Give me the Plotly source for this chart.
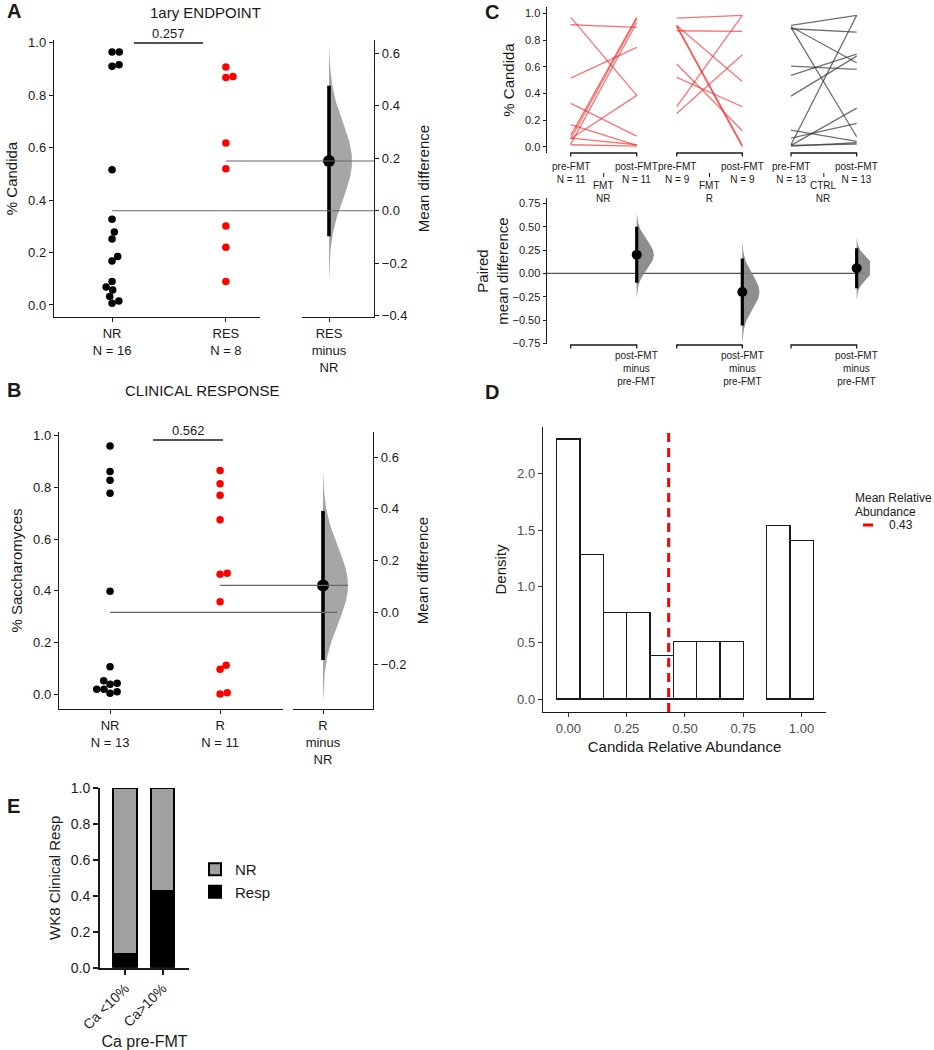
import numpy as np
import plotly.graph_objects as go

W, H = 934, 1050
FONT = "Liberation Sans, Arial, Helvetica, sans-serif"
INK = "#1a1a1a"

# ---------------- data ----------------
# Panel A: % Candida, primary endpoint
a_labels = ["NR", "RES"]
a_nr = [0.965, 0.965, 0.917, 0.911, 0.516, 0.327, 0.278, 0.252, 0.185, 0.168,
        0.089, 0.068, 0.057, 0.032, 0.015, 0.006]
a_res = [0.908, 0.872, 0.868, 0.618, 0.520, 0.301, 0.220, 0.089]
a_pvalue = "0.257"

# Panel B: % Saccharomyces, clinical response
b_labels = ["NR", "R"]
b_nr = [0.960, 0.861, 0.827, 0.777, 0.398, 0.106, 0.043, 0.039, 0.052,
        0.010, 0.004, 0.019, 0.019]
b_r = [0.865, 0.814, 0.769, 0.675, 0.468, 0.464, 0.358, 0.112, 0.097, 0.006, 0.001]
b_pvalue = "0.562"

# Panel C: paired % Candida pre / post FMT
c_group_labels = ["FMT<br>NR", "FMT<br>R", "CTRL<br>NR"]
c_fmt_nr_pre = [0.97, 0.915, 0.515, 0.325, 0.165, 0.06, 0.085, 0.06, 0.02, 0.065, 0.015]
c_fmt_nr_post = [0.385, 0.895, 0.745, 0.08, 0.01, 0.385, 0.97, 0.96, 0.93, 0.015, 0.005]
c_fmt_r_pre = [0.965, 0.87, 0.91, 0.91, 0.90, 0.62, 0.52, 0.30, 0.25]
c_fmt_r_post = [0.985, 0.865, 0.49, 0.01, 0.0, 0.12, 0.30, 0.985, 0.69]
c_ctrl_nr_pre = [0.91, 0.885, 0.90, 0.895, 0.605, 0.535, 0.38, 0.125, 0.065, 0.015, 0.01, 0.01, 0.005]
c_ctrl_nr_post = [0.985, 0.86, 0.63, 0.075, 0.58, 0.695, 0.68, 0.04, 0.175, 0.985, 0.29, 0.02, 0.03]

# Panel D: histogram of Candida relative abundance
d_counts = [18, 10, 6, 6, 3, 4, 4, 4, 0, 12, 11]
d_first_bin_center = 0.0
d_bin_width = 0.1
d_mean_abundance = 0.43
d_xticks = [0.0, 0.25, 0.5, 0.75, 1.0]

# Panel E: WK8 clinical response by pre-FMT Candida
e_categories = ["Ca <10%", "Ca>10%"]
e_resp = [0.077, 0.429]
e_nr = [0.923, 0.571]


# ---------------- helpers ----------------
def X(p):
    return p / W


def Y(p):
    return 1 - p / H


def key(i):
    return ("xaxis" if i[0] == "x" else "yaxis") + i[1:]


def to_paper_x(v, dom, rng):
    return dom[0] + (v - rng[0]) / (rng[1] - rng[0]) * (dom[1] - dom[0])


def swarm_offsets(vals, y_ppu, x_ppu, diam):
    vals = np.asarray(vals, float)
    order = np.argsort(vals, kind="stable")
    placed = []
    offs = np.zeros(len(vals))
    for i in order:
        yp = vals[i] * y_ppu
        cands = [0.0]
        for xp, yq in placed:
            dy = yp - yq
            if abs(dy) < diam:
                dx = np.sqrt(diam ** 2 - dy ** 2)
                cands += [xp + dx, xp - dx]
        cands = sorted(cands, key=lambda c: (abs(c), -c))
        for c in cands:
            if all((c - xp) ** 2 + (yp - yq) ** 2 >= diam ** 2 - 1e-6 for xp, yq in placed):
                offs[i] = c
                placed.append((c, yp))
                break
    return offs / x_ppu


base_axis = dict(showline=True, linecolor=INK, linewidth=1.4, ticks="outside", ticklen=4,
                 tickwidth=1.2, tickcolor=INK, showgrid=False, zeroline=False,
                 tickfont=dict(family=FONT, size=13, color=INK),
                 title_font=dict(family=FONT, size=15, color=INK), fixedrange=True)


def ax(**kw):
    d = dict(base_axis)
    d.update(kw)
    return d


fig = go.Figure()
L = {}
shapes = []
annots = []


def text(x, y, s, size=13, bold=False, xanchor="center", yanchor="middle", color=INK, xref="paper"):
    if bold:
        s = "<b>" + s + "</b>"
    annots.append(dict(x=x, y=y, xref=xref, yref="paper", text=s, showarrow=False,
                       xanchor=xanchor, yanchor=yanchor,
                       font=dict(family=FONT, size=size, color=color)))


def half_violin(center, mu, se, width, xa, ya, color, nsd=3.0):
    ys = np.linspace(mu - nsd * se, mu + nsd * se, 161)
    dens = np.exp(-0.5 * ((ys - mu) / se) ** 2)
    xs = center + width * dens
    fig.add_trace(go.Scatter(x=np.concatenate([[center], xs, [center]]),
                             y=np.concatenate([[ys[0]], ys, [ys[-1]]]),
                             mode="lines", fill="toself", fillcolor=color,
                             line=dict(width=0), xaxis=xa, yaxis=ya,
                             hoverinfo="skip", showlegend=False))


def effect_marks(center, mu, se, xa, ya, lw, msize):
    lo, hi = mu - 1.96 * se, mu + 1.96 * se
    fig.add_trace(go.Scatter(x=[center, center], y=[lo, hi], mode="lines",
                             line=dict(color="black", width=lw), xaxis=xa, yaxis=ya,
                             hoverinfo="skip", showlegend=False))
    fig.add_trace(go.Scatter(x=[center], y=[mu], mode="markers",
                             marker=dict(color="black", size=msize), xaxis=xa, yaxis=ya,
                             showlegend=False))


def two_group(ctrl, test, names, ids, sw_dom, sw_rng, df_dom, ydom, yrng, ylabel,
              vio_w, ctrl_line_end, test_line_end):
    xs, ys, xd, yd = ids
    ctrl = np.asarray(ctrl, float)
    test = np.asarray(test, float)
    m_c, m_t = ctrl.mean(), test.mean()
    diff = m_t - m_c
    se = np.sqrt(ctrl.var(ddof=1) / len(ctrl) + test.var(ddof=1) / len(test))
    y_ppu = (ydom[1] - ydom[0]) * H / (yrng[1] - yrng[0])
    x_ppu = (sw_dom[1] - sw_dom[0]) * W / (sw_rng[1] - sw_rng[0])
    for k, (vals, col) in enumerate([(ctrl, "black"), (test, "#ff0000")]):
        off = swarm_offsets(vals, y_ppu, x_ppu, 7.2)
        fig.add_trace(go.Scatter(x=k + off, y=vals, mode="markers",
                                 marker=dict(color=col, size=7.5, line=dict(width=0)),
                                 xaxis=xs, yaxis=ys, showlegend=False))
    df_rng = [-0.75, 1.25]
    L[key(xs)] = ax(domain=sw_dom, range=sw_rng, anchor=ys, tickvals=[0, 1],
                    ticktext=[f"{names[0]}<br>N = {len(ctrl)}", f"{names[1]}<br>N = {len(test)}"])
    L[key(ys)] = ax(domain=ydom, range=yrng, anchor=xs, tickvals=[0, 0.2, 0.4, 0.6, 0.8, 1.0],
                    tickformat=".1f", title=dict(text=ylabel, standoff=6))
    L[key(xd)] = ax(domain=df_dom, range=df_rng, anchor=yd, tickvals=[0],
                    ticktext=[f"{names[1]}<br>minus<br>{names[0]}"])
    L[key(yd)] = ax(domain=ydom, range=[yrng[0] - m_c, yrng[1] - m_c], anchor=xd, side="right",
                    tick0=0, dtick=0.2, tickformat=".1f",
                    title=dict(text="Mean difference", standoff=12))
    shapes.append(dict(type="line", xref="paper", yref=ys, x0=to_paper_x(0, sw_dom, sw_rng),
                       x1=ctrl_line_end, y0=m_c, y1=m_c, line=dict(color="#666666", width=1.1)))
    shapes.append(dict(type="line", xref="paper", yref=ys, x0=to_paper_x(1, sw_dom, sw_rng),
                       x1=test_line_end, y0=m_t, y1=m_t, line=dict(color="#666666", width=1.1)))
    half_violin(0, diff, se, vio_w, xd, yd, "rgba(150,150,150,0.85)")
    effect_marks(0, diff, se, xd, yd, 3.6, 12)


# ---------------- panel A ----------------
two_group(a_nr, a_res, a_labels, ("x", "y", "x2", "y2"),
          [X(54), X(260)], [-0.51, 1.30], [X(302), X(374)],
          [Y(317), Y(40)], [-0.046, 1.011], "% Candida", 0.64, X(374), X(374))
text(X(14), Y(11), "A", size=20, bold=True)
text(X(205), Y(12), "1ary ENDPOINT", size=15)
text(X(168), Y(33), a_pvalue, size=13)
shapes.append(dict(type="line", xref="paper", yref="paper", x0=X(134), x1=X(203),
                   y0=Y(43), y1=Y(43), line=dict(color=INK, width=1.4)))

# ---------------- panel B ----------------
two_group(b_nr, b_r, b_labels, ("x3", "y3", "x4", "y4"),
          [X(59), X(283)], [-0.464, 1.572], [X(293), X(373)],
          [Y(709), Y(432)], [-0.057, 1.014], "% Saccharomyces", 0.625, X(337), X(348))
text(X(14), Y(390), "B", size=20, bold=True)
text(X(202), Y(390), "CLINICAL RESPONSE", size=15)
text(X(188), Y(431), b_pvalue, size=13)
shapes.append(dict(type="line", xref="paper", yref="paper", x0=X(153), x1=X(223),
                   y0=Y(440), y1=Y(440), line=dict(color=INK, width=1.4)))

# ---------------- panel C ----------------
c_pos = [(0.0, 1.0), (1.606, 2.6), (3.338, 4.333)]
c_sets = [(c_fmt_nr_pre, c_fmt_nr_post, "rgba(240,30,30,0.62)", "rgba(130,130,130,0.9)"),
          (c_fmt_r_pre, c_fmt_r_post, "rgba(240,30,30,0.62)", "rgba(130,130,130,0.9)"),
          (c_ctrl_nr_pre, c_ctrl_nr_post, "rgba(55,55,55,0.72)", "rgba(130,130,130,0.9)")]
c_xdom = [X(546.7), X(870)]
c_xrng = [-0.364, 4.535]
for (pre, post, col, vcol), (p0, p1), glab in zip(c_sets, c_pos, c_group_labels):
    xs, ys = [], []
    for a, b in zip(pre, post):
        xs += [p0, p1, None]
        ys += [a, b, None]
    fig.add_trace(go.Scatter(x=xs, y=ys, mode="lines", line=dict(color=col, width=1.3),
                             xaxis="x5", yaxis="y5", hoverinfo="skip", showlegend=False))
    d = np.asarray(post, float) - np.asarray(pre, float)
    mu, se = d.mean(), d.std(ddof=1) / np.sqrt(len(d))
    half_violin(p1, mu, se, 0.26, "x6", "y6", vcol, nsd=3.0)
    effect_marks(p1, mu, se, "x6", "y6", 3.2, 10)
    # brackets
    for yb in (153, 345):
        shapes.append(dict(type="path", xref="x5" if yb == 153 else "x6", yref="paper",
                           path=f"M {p0},{Y(yb + 3.5)} L {p0},{Y(yb)} L {p1},{Y(yb)} L {p1},{Y(yb + 3.5)}",
                           line=dict(color=INK, width=1.3)))
    annots.append(dict(x=p0, y=Y(159), xref="x5", yref="paper", showarrow=False,
                       text=f"pre-FMT<br>N = {len(pre)}", xanchor="center", yanchor="top",
                       font=dict(family=FONT, size=10, color=INK)))
    annots.append(dict(x=p1, y=Y(159), xref="x5", yref="paper", showarrow=False,
                       text=f"post-FMT<br>N = {len(post)}", xanchor="center", yanchor="top",
                       font=dict(family=FONT, size=10, color=INK)))
    mid = (p0 + p1) / 2
    shapes.append(dict(type="line", xref="x5", yref="paper", x0=mid, x1=mid,
                       y0=Y(173), y1=Y(177), line=dict(color=INK, width=1)))
    annots.append(dict(x=mid, y=Y(178), xref="x5", yref="paper", showarrow=False,
                       text=glab, xanchor="center", yanchor="top",
                       font=dict(family=FONT, size=10, color=INK)))
    annots.append(dict(x=p1, y=Y(348), xref="x6", yref="paper", showarrow=False,
                       text="post-FMT<br>minus<br>pre-FMT", xanchor="center", yanchor="top",
                       font=dict(family=FONT, size=10, color=INK)))

L["xaxis5"] = dict(domain=c_xdom, range=c_xrng, anchor="y5", visible=False, fixedrange=True)
L["yaxis5"] = ax(domain=[Y(153), Y(7)], range=[-0.047, 1.048], anchor="x5",
                 tickvals=[0, 0.2, 0.4, 0.6, 0.8, 1.0], tickformat=".1f",
                 tickfont=dict(family=FONT, size=11, color=INK), ticklen=3,
                 title=dict(text="% Candida", standoff=6))
L["xaxis6"] = dict(domain=c_xdom, range=c_xrng, anchor="y6", visible=False, fixedrange=True)
L["yaxis6"] = ax(domain=[Y(344), Y(198)], range=[-0.757, 0.807], anchor="x6",
                 tickvals=[-0.75, -0.5, -0.25, 0, 0.25, 0.5, 0.75], tickformat=".2f",
                 tickfont=dict(family=FONT, size=11, color=INK), ticklen=3,
                 title=dict(text="Paired<br>mean difference", standoff=0))
shapes.append(dict(type="line", xref="x6 domain", yref="y6", x0=0, x1=0.985, y0=0, y1=0,
                   line=dict(color="#555555", width=1.1), layer="below"))
text(X(492), Y(12), "C", size=20, bold=True)

# ---------------- panel D ----------------
d_counts_arr = np.asarray(d_counts, float)
d_centers = d_first_bin_center + d_bin_width * np.arange(len(d_counts))
d_density = d_counts_arr / (d_counts_arr.sum() * d_bin_width)
keep = d_counts_arr > 0
fig.add_trace(go.Bar(x=d_centers[keep], y=d_density[keep], width=d_bin_width,
                     marker=dict(color="white", line=dict(color=INK, width=1.3)),
                     xaxis="x7", yaxis="y7", showlegend=False))
shapes.append(dict(type="line", xref="x7", yref="y7 domain", x0=d_mean_abundance,
                   x1=d_mean_abundance, y0=0, y1=1,
                   line=dict(color="#ff0000", width=3, dash="9px,6px")))
grey_ticks = dict(family=FONT, size=13, color="#4d4d4d")
L["xaxis7"] = ax(domain=[X(543), X(826)], range=[-0.109, 1.105], anchor="y7",
                 tickvals=d_xticks, tickformat=".2f", tickfont=grey_ticks, tickcolor="#333333",
                 title=dict(text="Candida Relative Abundance", standoff=6))
L["yaxis7"] = ax(domain=[Y(712), Y(427)], range=[-0.115, 2.415], anchor="x7",
                 tickvals=[0, 0.5, 1.0, 1.5, 2.0], tickformat=".1f", tickfont=grey_ticks,
                 tickcolor="#333333", title=dict(text="Density", standoff=6))
text(X(492), Y(392), "D", size=20, bold=True)
text(X(853), Y(498), "Mean Relative", size=12, xanchor="left")
text(X(853), Y(512), "Abundance", size=12, xanchor="left")
shapes.append(dict(type="line", xref="paper", yref="paper", x0=X(863), x1=X(873),
                   y0=Y(525), y1=Y(525), line=dict(color="#ff0000", width=3)))
text(X(887), Y(525), f"{d_mean_abundance:.2f}", size=12, xanchor="left")

# ---------------- panel E ----------------
fig.add_trace(go.Bar(x=e_categories, y=e_resp, width=0.62, name="Resp",
                     marker=dict(color="black", line=dict(color="black", width=2)),
                     xaxis="x8", yaxis="y8", legend="legend"))
fig.add_trace(go.Bar(x=e_categories, y=e_nr, width=0.62, name="NR",
                     marker=dict(color="#a0a0a0", line=dict(color="black", width=2)),
                     xaxis="x8", yaxis="y8", legend="legend"))
e_tick = dict(family=FONT, size=14, color=INK)
L["xaxis8"] = ax(domain=[X(100), X(189)], range=[-0.663, 1.698], anchor="y8", type="category",
                 tickangle=-45, tickfont=e_tick, linewidth=2, tickwidth=2, ticklen=5,
                 title=dict(text="Ca pre-FMT", standoff=6, font=dict(family=FONT, size=16, color=INK)))
L["yaxis8"] = ax(domain=[Y(967.7), Y(788)], range=[0, 1.0], anchor="x8",
                 tickvals=[0, 0.2, 0.4, 0.6, 0.8, 1.0], tickformat=".1f", tickfont=e_tick,
                 linewidth=2, tickwidth=2, ticklen=5,
                 title=dict(text="WK8 Clinical Resp", standoff=6))
text(X(13), Y(806), "E", size=20, bold=True)

fig.update_layout(
    width=W, height=H, template="none", autosize=False,
    margin=dict(l=0, r=0, t=0, b=0),
    paper_bgcolor="white", plot_bgcolor="rgba(0,0,0,0)",
    font=dict(family=FONT, color=INK),
    barmode="stack", showlegend=True,
    legend=dict(x=X(195), y=Y(853), xanchor="left", yanchor="top", traceorder="reversed",
                font=dict(family=FONT, size=15, color=INK), bgcolor="rgba(0,0,0,0)",
                itemwidth=30),
    shapes=shapes, annotations=annots, **L)

fig.write_html("out.html", config={"displayModeBar": False},
               post_script="document.body.style.margin='0px';document.body.style.overflow='hidden';")
